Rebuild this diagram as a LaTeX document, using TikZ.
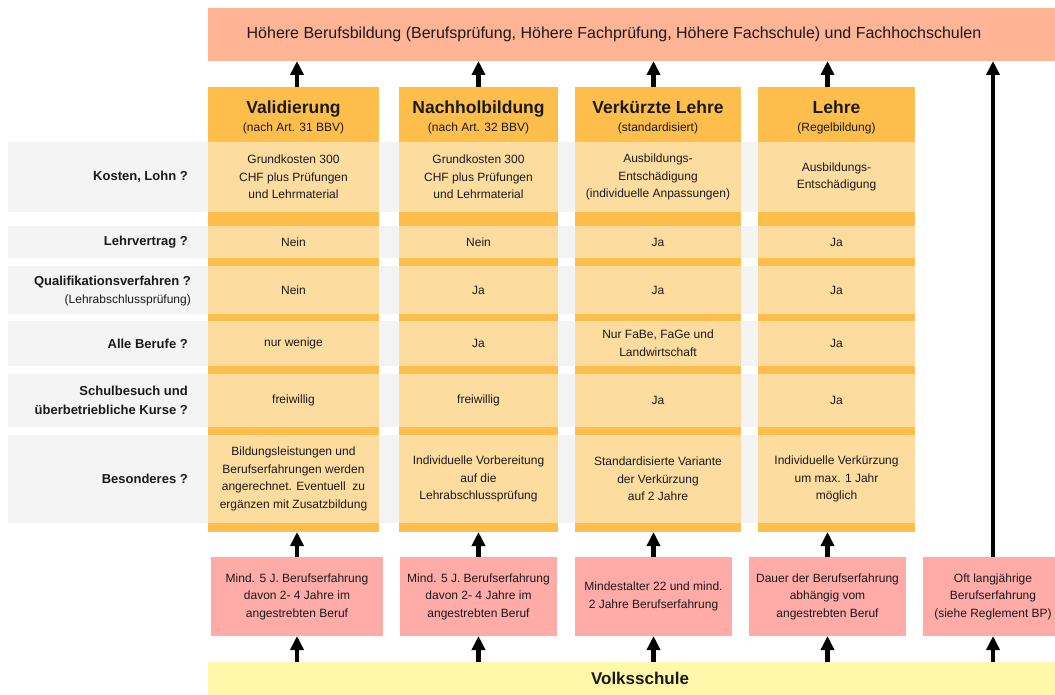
\documentclass[tikz,border=0pt]{standalone}
\usepackage{fontspec}
\setmainfont{Liberation Sans}
\usetikzlibrary{arrows.meta,calc}
\definecolor{topc}{HTML}{FFB496}
\definecolor{hdrc}{HTML}{FDBE4B}
\definecolor{cellc}{HTML}{FDDCA0}
\definecolor{grayc}{HTML}{F4F4F4}
\definecolor{pinkc}{HTML}{FFABA8}
\definecolor{yelc}{HTML}{FFF8AA}
\definecolor{txt}{HTML}{1A1A1A}
\newcommand\mycell[6]{\node[cell,minimum width=#4pt,minimum height=#5pt] (#1) at (#2,#3) {#6};}
\begin{document}
\begin{tikzpicture}[x=1pt,y=-1pt,
 box/.style={rectangle,inner sep=0pt,outer sep=0pt,align=center,text=txt},
 cell/.style={box,fill=cellc,font=\fontsize{12}{17.6}\selectfont},
 colbg/.style={box,fill=hdrc},
 hdr/.style={box,font=\fontsize{12}{18}\selectfont},
 band/.style={box,fill=grayc},
 rlab/.style={anchor=east,align=right,inner sep=0pt,text=txt,font=\fontsize{13}{18.5}\selectfont\bfseries},
 pinkbox/.style={box,fill=pinkc,font=\fontsize{12}{17.6}\selectfont},
 up/.style={line width=4.5pt,-{Triangle[length=14pt,width=13pt]}},
]
\useasboundingbox (0,0) rectangle (1055,695);
\clip (0,0) rectangle (1055,695);

% top and bottom bars
\node[box,fill=topc,minimum width=847pt,minimum height=53pt] (top) at (631.5,34.5) {};
\node[box,font=\fontsize{16}{18}\selectfont] (toptext) at (614,34) {Höhere Berufsbildung (Berufsprüfung, Höhere Fachprüfung, Höhere Fachschule) und Fachhochschulen};
\node[box,fill=yelc,minimum width=855pt,minimum height=38pt] (volk) at (635.5,681) {};
\node[box,font=\fontsize{17}{20}\selectfont\bfseries] (volktext) at (640,678) {Volksschule};

% gray row bands
\node[band,minimum width=892pt,minimum height=70pt] (b1) at (454,177) {};
\node[band,minimum width=892pt,minimum height=32pt] (b2) at (454,242) {};
\node[band,minimum width=892pt,minimum height=48pt] (b3) at (454,290) {};
\node[band,minimum width=892pt,minimum height=45pt] (b4) at (454,343.5) {};
\node[band,minimum width=892pt,minimum height=53pt] (b5) at (454,400.5) {};
\node[band,minimum width=892pt,minimum height=88pt] (b6) at (454,479) {};

% row labels
\node[rlab] (l1) at (188,177) {Kosten, Lohn ?};
\node[rlab] (l2) at (188,242) {Lehrvertrag ?};
\node[rlab,font=\fontsize{13}{18}\selectfont\bfseries] (l3) at (191,291) {Qualifikationsverfahren ?\\{\mdseries\fontsize{12}{18}\selectfont (Lehrabschlussprüfung)}};
\node[rlab] (l4) at (188,343.5) {Alle Berufe ?};
\node[rlab] (l5) at (188,400.5) {Schulbesuch und\\überbetriebliche Kurse ?};
\node[rlab] (l6) at (188,479) {Besonderes ?};

% column backgrounds
\node[colbg,minimum width=171pt,minimum height=445pt] (col1) at (293.5,309.5) {};
\node[colbg,minimum width=159pt,minimum height=445pt] (col2) at (478.5,309.5) {};
\node[colbg,minimum width=166pt,minimum height=445pt] (col3) at (658,309.5) {};
\node[colbg,minimum width=157pt,minimum height=445pt] (col4) at (836.5,309.5) {};

% headers
\node[hdr] (h1) at (293.5,117) {{\fontsize{17.5}{18}\selectfont\bfseries Validierung}\\(nach Art. 31 BBV)};
\node[hdr] (h2) at (478.5,117) {{\fontsize{17.5}{18}\selectfont\bfseries Nachholbildung}\\(nach Art. 32 BBV)};
\node[hdr] (h3) at (658,117) {{\fontsize{17.5}{18}\selectfont\bfseries Verkürzte Lehre}\\(standardisiert)};
\node[hdr] (h4) at (836.5,117) {{\fontsize{17.5}{18}\selectfont\bfseries Lehre}\\(Regelbildung)};

% cells column 1
\mycell{c11}{293.5}{177}{171}{70}{Grundkosten 300\\CHF plus Prüfungen\\und Lehrmaterial}
\mycell{c12}{293.5}{242}{171}{32}{Nein}
\mycell{c13}{293.5}{290}{171}{48}{Nein}
\mycell{c14}{293.5}{343.5}{171}{45}{nur wenige}
\mycell{c15}{293.5}{400.5}{171}{53}{freiwillig}
\mycell{c16}{293.5}{479}{171}{88}{Bildungsleistungen und\\Berufserfahrungen werden\\angerechnet. Eventuell\ \ zu\\ergänzen mit Zusatzbildung}
% column 2
\mycell{c21}{478.5}{177}{159}{70}{Grundkosten 300\\CHF plus Prüfungen\\und Lehrmaterial}
\mycell{c22}{478.5}{242}{159}{32}{Nein}
\mycell{c23}{478.5}{290}{159}{48}{Ja}
\mycell{c24}{478.5}{343.5}{159}{45}{Ja}
\mycell{c25}{478.5}{400.5}{159}{53}{freiwillig}
\mycell{c26}{478.5}{479}{159}{88}{Individuelle Vorbereitung\\auf die\\Lehrabschlussprüfung}
% column 3
\mycell{c31}{658}{177}{166}{70}{Ausbildungs-\\Entschädigung\\(individuelle Anpassungen)}
\mycell{c32}{658}{242}{166}{32}{Ja}
\mycell{c33}{658}{290}{166}{48}{Ja}
\mycell{c34}{658}{343.5}{166}{45}{Nur FaBe, FaGe und\\Landwirtschaft}
\mycell{c35}{658}{400.5}{166}{53}{Ja}
\mycell{c36}{658}{479}{166}{88}{Standardisierte Variante\\der Verkürzung\\auf 2 Jahre}
% column 4
\mycell{c41}{836.5}{177}{157}{70}{Ausbildungs-\\Entschädigung}
\mycell{c42}{836.5}{242}{157}{32}{Ja}
\mycell{c43}{836.5}{290}{157}{48}{Ja}
\mycell{c44}{836.5}{343.5}{157}{45}{Ja}
\mycell{c45}{836.5}{400.5}{157}{53}{Ja}
\mycell{c46}{836.5}{479}{157}{88}{Individuelle Verkürzung\\um max. 1 Jahr\\möglich}

% pink boxes
\node[pinkbox,minimum width=172pt,minimum height=79pt] (p1) at (297,596.5) {Mind. 5 J. Berufserfahrung\\davon 2- 4 Jahre im\\angestrebten Beruf};
\node[pinkbox,minimum width=157pt,minimum height=79pt] (p2) at (478.5,596.5) {Mind. 5 J. Berufserfahrung\\davon 2- 4 Jahre im\\angestrebten Beruf};
\node[pinkbox,minimum width=157pt,minimum height=79pt] (p3) at (653.5,596.5) {Mindestalter 22 und mind.\\2 Jahre Berufserfahrung};
\node[pinkbox,minimum width=157pt,minimum height=79pt] (p4) at (827.5,596.5) {Dauer der Berufserfahrung\\abhängig vom\\angestrebten Beruf};
\node[pinkbox,minimum width=140pt,minimum height=79pt] (p5) at (993,596.5) {Oft langjährige\\Berufserfahrung\\(siehe Reglement BP)};

% arrows
\foreach \p/\c in {p1/col1,p2/col2,p3/col3,p4/col4}{
  \draw[up] (\p.north) -- (\p.north |- \c.south);
  \draw[up] (\p.north |- \c.north) -- (\p.north |- top.south);
  \draw[up] (\p.south |- volk.north) -- (\p.south);
}
\draw[up] (p5.north) -- (p5.north |- top.south);
\draw[up] (p5.south |- volk.north) -- (p5.south);
\end{tikzpicture}
\end{document}
